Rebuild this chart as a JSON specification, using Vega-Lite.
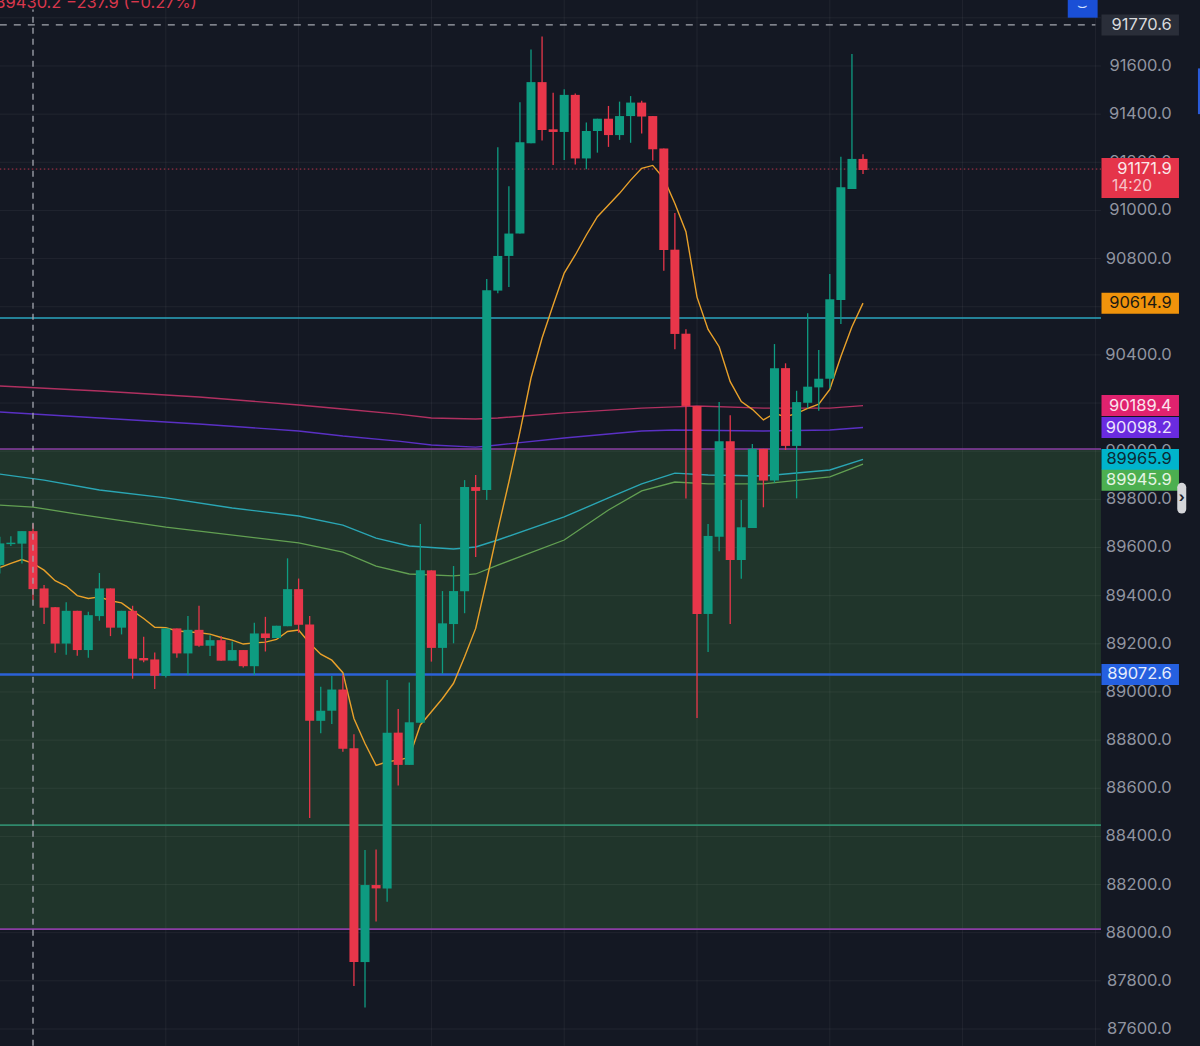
{"$schema":"https://vega.github.io/schema/vega-lite/v6.json","width":1200,"height":1046,"autosize":{"type":"fit","contains":"padding"},"padding":0,"background":"#141823","config":{"view":{"stroke":null}},
"datasets":{
"candles":[
{"i":-3,"o":89527,"h":89645,"l":89492,"c":89617,"d":"up"},{"i":-2,"o":89614,"h":89647,"l":89606,"c":89620,"d":"up"},{"i":-1,"o":89616,"h":89668,"l":89534,"c":89668,"d":"up"},{"i":0,"o":89668,"h":89700,"l":89382,"c":89427,"d":"down"},{"i":1,"o":89430,"h":89444,"l":89282,"c":89350,"d":"down"},{"i":2,"o":89352,"h":89353,"l":89163,"c":89201,"d":"down"},{"i":3,"o":89201,"h":89373,"l":89154,"c":89337,"d":"up"},{"i":4,"o":89337,"h":89337,"l":89150,"c":89174,"d":"down"},{"i":5,"o":89174,"h":89333,"l":89142,"c":89319,"d":"up"},{"i":6,"o":89315,"h":89494,"l":89296,"c":89430,"d":"up"},{"i":7,"o":89430,"h":89430,"l":89232,"c":89267,"d":"down"},{"i":8,"o":89267,"h":89337,"l":89239,"c":89337,"d":"up"},{"i":9,"o":89337,"h":89358,"l":89055,"c":89138,"d":"down"},{"i":10,"o":89141,"h":89229,"l":89123,"c":89131,"d":"down"},{"i":11,"o":89135,"h":89164,"l":89012,"c":89067,"d":"down"},{"i":12,"o":89067,"h":89264,"l":89060,"c":89264,"d":"up"},{"i":13,"o":89264,"h":89264,"l":89142,"c":89160,"d":"down"},{"i":14,"o":89160,"h":89315,"l":89070,"c":89258,"d":"up"},{"i":15,"o":89258,"h":89358,"l":89188,"c":89192,"d":"down"},{"i":16,"o":89192,"h":89236,"l":89149,"c":89215,"d":"up"},{"i":17,"o":89215,"h":89232,"l":89130,"c":89130,"d":"down"},{"i":18,"o":89130,"h":89210,"l":89130,"c":89174,"d":"up"},{"i":19,"o":89174,"h":89174,"l":89102,"c":89107,"d":"down"},{"i":20,"o":89107,"h":89287,"l":89070,"c":89243,"d":"up"},{"i":21,"o":89243,"h":89312,"l":89168,"c":89224,"d":"down"},{"i":22,"o":89224,"h":89275,"l":89224,"c":89275,"d":"up"},{"i":23,"o":89273,"h":89555,"l":89273,"c":89427,"d":"up"},{"i":24,"o":89427,"h":89471,"l":89246,"c":89279,"d":"down"},{"i":25,"o":89280,"h":89315,"l":88476,"c":88880,"d":"down"},{"i":26,"o":88880,"h":89022,"l":88828,"c":88922,"d":"up"},{"i":27,"o":88922,"h":89066,"l":88867,"c":89010,"d":"up"},{"i":28,"o":89010,"h":89070,"l":88752,"c":88764,"d":"down"},{"i":29,"o":88766,"h":88824,"l":87779,"c":87878,"d":"down"},{"i":30,"o":87878,"h":88343,"l":87689,"c":88198,"d":"up"},{"i":31,"o":88198,"h":88346,"l":88047,"c":88184,"d":"down"},{"i":32,"o":88184,"h":89050,"l":88129,"c":88831,"d":"up"},{"i":33,"o":88831,"h":88929,"l":88611,"c":88697,"d":"down"},{"i":34,"o":88697,"h":89039,"l":88697,"c":88874,"d":"up"},{"i":35,"o":88872,"h":89698,"l":88872,"c":89505,"d":"up"},{"i":36,"o":89505,"h":89505,"l":89126,"c":89183,"d":"down"},{"i":37,"o":89183,"h":89419,"l":89075,"c":89285,"d":"up"},{"i":38,"o":89282,"h":89523,"l":89202,"c":89419,"d":"up"},{"i":39,"o":89418,"h":89880,"l":89327,"c":89851,"d":"up"},{"i":40,"o":89851,"h":89901,"l":89561,"c":89835,"d":"down"},{"i":41,"o":89839,"h":90715,"l":89797,"c":90669,"d":"up"},{"i":42,"o":90667,"h":91262,"l":90656,"c":90811,"d":"up"},{"i":43,"o":90811,"h":91101,"l":90682,"c":90904,"d":"up"},{"i":44,"o":90904,"h":91449,"l":90904,"c":91283,"d":"up"},{"i":45,"o":91279,"h":91669,"l":91279,"c":91533,"d":"up"},{"i":46,"o":91533,"h":91722,"l":91290,"c":91334,"d":"down"},{"i":47,"o":91337,"h":91489,"l":91189,"c":91326,"d":"down"},{"i":48,"o":91326,"h":91503,"l":91210,"c":91480,"d":"up"},{"i":49,"o":91480,"h":91486,"l":91191,"c":91216,"d":"down"},{"i":50,"o":91216,"h":91365,"l":91171,"c":91330,"d":"up"},{"i":51,"o":91330,"h":91381,"l":91240,"c":91381,"d":"up"},{"i":52,"o":91381,"h":91434,"l":91264,"c":91313,"d":"down"},{"i":53,"o":91313,"h":91452,"l":91293,"c":91392,"d":"up"},{"i":54,"o":91392,"h":91475,"l":91281,"c":91448,"d":"up"},{"i":55,"o":91448,"h":91456,"l":91320,"c":91390,"d":"down"},{"i":56,"o":91392,"h":91392,"l":91207,"c":91254,"d":"down"},{"i":57,"o":91257,"h":91257,"l":90750,"c":90836,"d":"down"},{"i":58,"o":90837,"h":90989,"l":90423,"c":90487,"d":"down"},{"i":59,"o":90488,"h":90506,"l":89804,"c":90188,"d":"down"},{"i":60,"o":90188,"h":90188,"l":88892,"c":89324,"d":"down"},{"i":61,"o":89324,"h":89698,"l":89166,"c":89648,"d":"up"},{"i":62,"o":89645,"h":90204,"l":89584,"c":90041,"d":"up"},{"i":63,"o":90041,"h":90149,"l":89282,"c":89548,"d":"down"},{"i":64,"o":89548,"h":89797,"l":89470,"c":89684,"d":"up"},{"i":65,"o":89681,"h":90030,"l":89681,"c":90010,"d":"up"},{"i":66,"o":90010,"h":90010,"l":89767,"c":89878,"d":"down"},{"i":67,"o":89878,"h":90445,"l":89869,"c":90345,"d":"up"},{"i":68,"o":90345,"h":90365,"l":90005,"c":90022,"d":"down"},{"i":69,"o":90022,"h":90251,"l":89804,"c":90204,"d":"up"},{"i":70,"o":90201,"h":90573,"l":90178,"c":90268,"d":"up"},{"i":71,"o":90265,"h":90420,"l":90168,"c":90301,"d":"up"},{"i":72,"o":90301,"h":90736,"l":90261,"c":90631,"d":"up"},{"i":73,"o":90628,"h":91223,"l":90528,"c":91096,"d":"up"},{"i":74,"o":91089,"h":91650,"l":91089,"c":91214,"d":"up"},{"i":75,"o":91214,"h":91233,"l":91151,"c":91168,"d":"down"}],
"orange":[{"i":-3,"p":89517},{"i":-2,"p":89534},{"i":-1,"p":89550},{"i":0,"p":89534},{"i":1,"p":89506},{"i":2,"p":89462},{"i":3,"p":89440},{"i":4,"p":89400},{"i":5,"p":89388},{"i":6,"p":89395},{"i":7,"p":89379},{"i":8,"p":89370},{"i":9,"p":89337},{"i":10,"p":89305},{"i":11,"p":89269},{"i":12,"p":89267},{"i":13,"p":89253},{"i":14,"p":89250},{"i":15,"p":89246},{"i":16,"p":89240},{"i":17,"p":89226},{"i":18,"p":89215},{"i":19,"p":89199},{"i":20,"p":89204},{"i":21,"p":89207},{"i":22,"p":89218},{"i":23,"p":89251},{"i":24,"p":89257},{"i":25,"p":89202},{"i":26,"p":89157},{"i":27,"p":89132},{"i":28,"p":89080},{"i":29,"p":88890},{"i":30,"p":88786},{"i":31,"p":88695},{"i":32,"p":88710},{"i":33,"p":88717},{"i":34,"p":88728},{"i":35,"p":88863},{"i":36,"p":88918},{"i":37,"p":88973},{"i":38,"p":89036},{"i":39,"p":89146},{"i":40,"p":89264},{"i":41,"p":89465},{"i":42,"p":89673},{"i":43,"p":89872},{"i":44,"p":90080},{"i":45,"p":90304},{"i":46,"p":90470},{"i":47,"p":90607},{"i":48,"p":90740},{"i":49,"p":90815},{"i":50,"p":90898},{"i":51,"p":90974},{"i":52,"p":91023},{"i":53,"p":91071},{"i":54,"p":91126},{"i":55,"p":91175},{"i":56,"p":91187},{"i":57,"p":91133},{"i":58,"p":91029},{"i":59,"p":90912},{"i":60,"p":90640},{"i":61,"p":90506},{"i":62,"p":90434},{"i":63,"p":90289},{"i":64,"p":90206},{"i":65,"p":90174},{"i":66,"p":90130},{"i":67,"p":90157},{"i":68,"p":90143},{"i":69,"p":90157},{"i":70,"p":90178},{"i":71,"p":90195},{"i":72,"p":90257},{"i":73,"p":90393},{"i":74,"p":90517},{"i":75,"p":90614.9}],
"pink":[{"i":-3,"p":90271},{"i":6,"p":90250},{"i":15,"p":90225},{"i":24,"p":90192},{"i":28,"p":90175},{"i":33,"p":90154},{"i":36,"p":90138},{"i":40,"p":90134},{"i":42,"p":90138},{"i":48,"p":90159},{"i":55,"p":90179},{"i":58,"p":90184},{"i":60,"p":90188},{"i":66,"p":90179},{"i":72,"p":90179},{"i":75,"p":90189.4}],
"purple":[{"i":-3,"p":90163},{"i":6,"p":90138},{"i":15,"p":90113},{"i":24,"p":90084},{"i":28,"p":90063},{"i":33,"p":90042},{"i":36,"p":90026},{"i":40,"p":90017},{"i":42,"p":90026},{"i":48,"p":90055},{"i":55,"p":90084},{"i":58,"p":90088},{"i":66,"p":90084},{"i":72,"p":90088},{"i":75,"p":90098.2}],
"teal":[{"i":-3,"p":89905},{"i":1,"p":89880},{"i":6,"p":89839},{"i":12,"p":89806},{"i":18,"p":89764},{"i":24,"p":89731},{"i":28,"p":89693},{"i":31,"p":89639},{"i":34,"p":89606},{"i":38,"p":89594},{"i":40,"p":89602},{"i":42,"p":89631},{"i":48,"p":89727},{"i":52,"p":89806},{"i":55,"p":89864},{"i":58,"p":89909},{"i":61,"p":89901},{"i":66,"p":89897},{"i":72,"p":89922},{"i":75,"p":89965.9}],
"green":[{"i":-3,"p":89776},{"i":0,"p":89768},{"i":4,"p":89739},{"i":12,"p":89685},{"i":24,"p":89619},{"i":28,"p":89581},{"i":31,"p":89523},{"i":34,"p":89490},{"i":38,"p":89482},{"i":40,"p":89490},{"i":42,"p":89527},{"i":48,"p":89631},{"i":52,"p":89756},{"i":55,"p":89835},{"i":58,"p":89872},{"i":61,"p":89864},{"i":66,"p":89864},{"i":72,"p":89893},{"i":75,"p":89945.9}],
"hgrid":[{"i":-3,"i2":96.5,"p":87600},{"i":-3,"i2":96.5,"p":87800},{"i":-3,"i2":96.5,"p":88000},{"i":-3,"i2":96.5,"p":88200},{"i":-3,"i2":96.5,"p":88400},{"i":-3,"i2":96.5,"p":88600},{"i":-3,"i2":96.5,"p":88800},{"i":-3,"i2":96.5,"p":89000},{"i":-3,"i2":96.5,"p":89200},{"i":-3,"i2":96.5,"p":89400},{"i":-3,"i2":96.5,"p":89600},{"i":-3,"i2":96.5,"p":89800},{"i":-3,"i2":96.5,"p":90000},{"i":-3,"i2":96.5,"p":90200},{"i":-3,"i2":96.5,"p":90400},{"i":-3,"i2":96.5,"p":90600},{"i":-3,"i2":96.5,"p":90800},{"i":-3,"i2":96.5,"p":91000},{"i":-3,"i2":96.5,"p":91200},{"i":-3,"i2":96.5,"p":91400},{"i":-3,"i2":96.5,"p":91600},{"i":-3,"i2":96.5,"p":91800}],
"vgrid":[{"i":12,"p":87530,"p2":91874},{"i":24,"p":87530,"p2":91874},{"i":36,"p":87530,"p2":91874},{"i":48,"p":87530,"p2":91874},{"i":60,"p":87530,"p2":91874},{"i":72,"p":87530,"p2":91874},{"i":84,"p":87530,"p2":91874},{"i":96,"p":87530,"p2":91874}],
"ticks":[{"i":102.9,"p":87600},{"i":102.9,"p":87800},{"i":102.9,"p":88000},{"i":102.9,"p":88200},{"i":102.9,"p":88400},{"i":102.9,"p":88600},{"i":102.9,"p":88800},{"i":102.9,"p":89000},{"i":102.9,"p":89200},{"i":102.9,"p":89400},{"i":102.9,"p":89600},{"i":102.9,"p":89800},{"i":102.9,"p":90000},{"i":102.9,"p":90200},{"i":102.9,"p":90400},{"i":102.9,"p":90600},{"i":102.9,"p":90800},{"i":102.9,"p":91000},{"i":102.9,"p":91200},{"i":102.9,"p":91400},{"i":102.9,"p":91600}],
"pills":[{"i":96.55,"i2":103.55,"it":102.9,"name":"last","p":91770.6,"label":"91770.6"},{"i":96.55,"i2":103.55,"it":102.9,"name":"orange","p":90614.9,"label":"90614.9"},{"i":96.55,"i2":103.55,"it":102.9,"name":"blue","p":89072.6,"label":"89072.6"},{"i":96.55,"i2":103.55,"it":102.9,"name":"pink","p":90189.4,"label":"90189.4"},{"i":96.55,"i2":103.55,"it":102.9,"name":"purple","p":90098.2,"label":"90098.2"},{"i":96.55,"i2":103.55,"it":102.9,"name":"teal","p":89965.9,"label":"89965.9"}],
"pillg":[{"i":96.55,"i2":103.55,"it":102.9,"name":"green","p":89945.9,"label":"89945.9"}],
"pillr":[{"i":96.55,"i2":103.55,"it":102.9,"name":"red","p":91171.9,"label":"91171.9"}],
"timer":[{"i":97.5,"name":"red","p":91171.9,"label":"14:20"}]
},
"encoding":{
"x":{"field":"i","type":"quantitative","scale":{"domain":[-2.982,105.45],"nice":false,"zero":false,"padding":0},"axis":null},
"y":{"field":"p","type":"quantitative","scale":{"domain":[87529.4,91874.1],"nice":false,"zero":false,"padding":0},"axis":null}
},
"layer":[
{"data":{"values":[{"i":-3,"i2":96.5,"p":90009,"p2":88015}]},"mark":{"type":"rect","fill":"#20352b","clip":true},"encoding":{"x2":{"field":"i2"},"y2":{"field":"p2"}}},
{"data":{"name":"hgrid"},"mark":{"type":"rule","stroke":"#ffffff","opacity":0.055,"strokeWidth":1,"clip":true},"encoding":{"x2":{"field":"i2"}}},
{"data":{"name":"vgrid"},"mark":{"type":"rule","stroke":"#ffffff","opacity":0.055,"strokeWidth":1,"clip":true},"encoding":{"y2":{"field":"p2"}}},
{"data":{"name":"ticks"},"mark":{"type":"text","font":"Inter","fontSize":16.5,"align":"right","baseline":"middle","fill":"#9094a0"},"encoding":{"text":{"field":"p","type":"quantitative","format":".1f"}}},
{"data":{"values":[{"i":-3,"i2":96.5,"p":90553}]},"mark":{"type":"rule","stroke":"#2aa6c0","strokeWidth":1.6,"clip":true},"encoding":{"x2":{"field":"i2"}}},
{"data":{"values":[{"i":-3,"i2":96.5,"p":88447}]},"mark":{"type":"rule","stroke":"#2f8a6c","strokeWidth":1.6,"clip":true},"encoding":{"x2":{"field":"i2"}}},
{"data":{"values":[{"i":-3,"i2":96.5,"p":90009},{"i":-3,"i2":96.5,"p":88015}]},"mark":{"type":"rule","stroke":"#8a3ca4","strokeWidth":1.6,"clip":true},"encoding":{"x2":{"field":"i2"}}},
{"data":{"values":[{"i":-3,"i2":96.5,"p":89072.6}]},"mark":{"type":"rule","stroke":"#2b62d9","strokeWidth":2.6,"clip":true},"encoding":{"x2":{"field":"i2"}}},
{"data":{"values":[{"i":-3,"i2":96.5,"p":91171.9}]},"mark":{"type":"rule","stroke":"#f0405a","strokeWidth":1,"strokeDash":[1.5,2.5],"opacity":0.75,"clip":true},"encoding":{"x2":{"field":"i2"}}},
{"data":{"name":"pink"},"mark":{"type":"line","stroke":"#b03060","strokeWidth":1.4,"clip":true},"encoding":{}},
{"data":{"name":"purple"},"mark":{"type":"line","stroke":"#5a30c4","strokeWidth":1.4,"clip":true},"encoding":{}},
{"data":{"name":"teal"},"mark":{"type":"line","stroke":"#2aa6b4","strokeWidth":1.4,"clip":true},"encoding":{}},
{"data":{"name":"green"},"mark":{"type":"line","stroke":"#62a052","strokeWidth":1.3,"clip":true},"encoding":{}},
{"data":{"name":"orange"},"mark":{"type":"line","stroke":"#e9a12a","strokeWidth":1.4,"clip":true},"encoding":{}},
{"data":{"name":"candles"},"mark":{"type":"rule","strokeWidth":1.3,"clip":true},"encoding":{"y":{"field":"h","type":"quantitative","axis":null},"y2":{"field":"l"},"color":{"field":"d","type":"nominal","scale":{"domain":["up","down"],"range":["#0e9b81","#e8364a"]},"legend":null}}},
{"data":{"name":"candles"},"mark":{"type":"bar","size":9,"clip":true},"encoding":{"y":{"field":"o","type":"quantitative","axis":null},"y2":{"field":"c"},"color":{"field":"d","type":"nominal","scale":{"domain":["up","down"],"range":["#0e9b81","#e8364a"]},"legend":null}}},
{"data":{"values":[{"i":0,"p":87530,"p2":91835}]},"mark":{"type":"rule","stroke":"#a4a7b0","strokeWidth":1.3,"strokeDash":[6,5],"clip":true},"encoding":{"y2":{"field":"p2"}}},
{"data":{"values":[{"i":-3,"i2":96,"p":91770.6}]},"mark":{"type":"rule","stroke":"#a4a7b0","strokeWidth":1.2,"strokeDash":[7,7],"clip":true},"encoding":{"x2":{"field":"i2"}}},
{"data":{"name":"pills"},"mark":{"type":"rule","strokeWidth":21,"clip":true},"encoding":{"x2":{"field":"i2"},"stroke":{"field":"name","type":"nominal","scale":{"domain":["last","orange","blue","pink","purple","teal","green","red"],"range":["#2a2e39","#f0930b","#2560e0","#e0226e","#6a2be0","#00b4cc","#4caf50","#e5344a"]},"legend":null}}},
{"data":{"name":"pillg"},"mark":{"type":"rule","strokeWidth":21,"yOffset":16,"clip":true},"encoding":{"x2":{"field":"i2"},"stroke":{"field":"name","type":"nominal","legend":null}}},
{"data":{"name":"pillr"},"mark":{"type":"rule","strokeWidth":40,"yOffset":9,"clip":true},"encoding":{"x2":{"field":"i2"},"stroke":{"field":"name","type":"nominal","legend":null}}},
{"data":{"name":"pills"},"mark":{"type":"text","font":"Inter","fontSize":16.5,"align":"right","baseline":"middle"},"encoding":{"x":{"field":"it","type":"quantitative"},"text":{"field":"label"},"fill":{"field":"name","type":"nominal","scale":{"domain":["last","orange","blue","pink","purple","teal","green","red"],"range":["#d8d9dc","#1c1a12","#e4ecfc","#fbe4ee","#ece4fc","#0c2a33","#e4f4e4","#fbe6e8"]},"legend":null}}},
{"data":{"name":"pillg"},"mark":{"type":"text","font":"Inter","fontSize":16.5,"align":"right","baseline":"middle","yOffset":16},"encoding":{"x":{"field":"it","type":"quantitative"},"text":{"field":"label"},"fill":{"field":"name","type":"nominal","legend":null}}},
{"data":{"name":"pillr"},"mark":{"type":"text","font":"Inter","fontSize":16.5,"align":"right","baseline":"middle"},"encoding":{"x":{"field":"it","type":"quantitative"},"text":{"field":"label"},"fill":{"field":"name","type":"nominal","legend":null}}},
{"data":{"name":"timer"},"mark":{"type":"text","font":"Inter","fontSize":15.5,"align":"left","baseline":"middle","yOffset":17,"opacity":0.8},"encoding":{"text":{"field":"label"},"fill":{"field":"name","type":"nominal","legend":null}}},
{"data":{"values":[{"i":14.8,"p":91860,"label":"89430.2 −237.9 (−0.27%)"}]},"mark":{"type":"text","font":"Inter","fontSize":16.5,"align":"right","baseline":"middle","fill":"#d8374c","clip":true},"encoding":{"text":{"field":"label"}}},
{"data":{"values":[{"i":93.5,"i2":96.2,"p":91838}]},"mark":{"type":"rule","stroke":"#1a4fd6","strokeWidth":18,"clip":true},"encoding":{"x2":{"field":"i2"}}},
{"data":{"values":[{"i":94.85,"p":91848,"label":"⌣"}]},"mark":{"type":"text","font":"DejaVu Sans","fontSize":16,"fill":"#d5e2ff","align":"center","baseline":"middle","clip":true},"encoding":{"text":{"field":"label"}}},
{"data":{"values":[{"i":103.8,"p":89760,"p2":89850}]},"mark":{"type":"rule","stroke":"#d5d6d9","strokeWidth":9,"strokeCap":"round","clip":true},"encoding":{"y2":{"field":"p2"}}},
{"data":{"values":[{"i":103.8,"p":89805,"label":"›"}]},"mark":{"type":"text","font":"Inter","fontSize":14,"fontWeight":"bold","fill":"#20232c","align":"center","baseline":"middle"},"encoding":{"text":{"field":"label"}}},
{"data":{"values":[{"i":105.4,"p":91400,"p2":91590}]},"mark":{"type":"rule","stroke":"#2a5bd7","strokeWidth":3,"clip":true},"encoding":{"y2":{"field":"p2"}}}
]}
